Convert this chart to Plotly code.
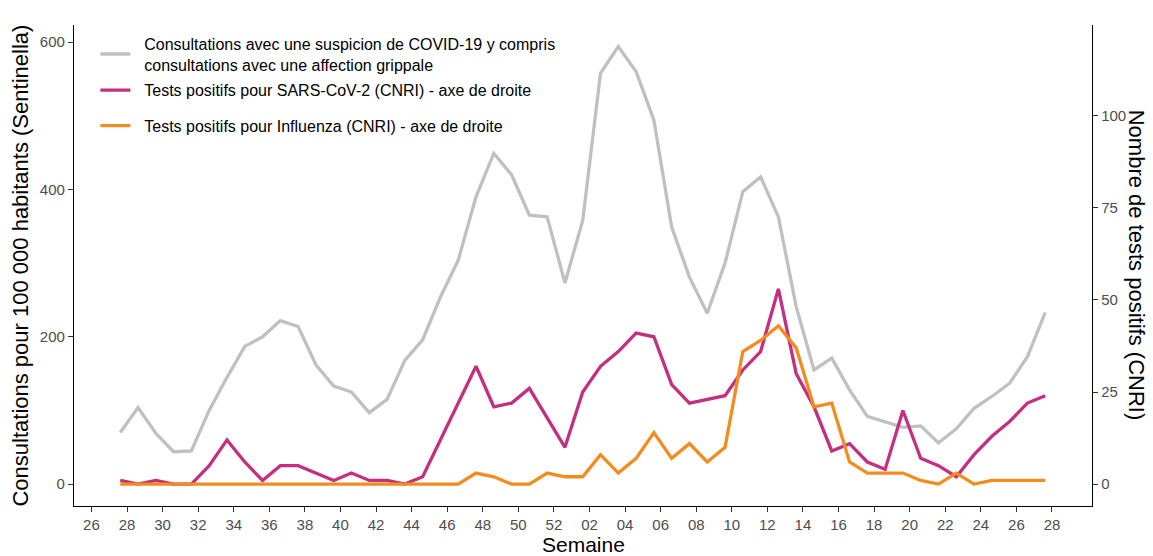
import plotly.graph_objects as go

# Week tick labels (every 2 weeks, 2020-W26 .. 2021-W28)
tick_labels = ["26", "28", "30", "32", "34", "36", "38", "40", "42", "44", "46", "48", "50", "52",
               "02", "04", "06", "08", "10", "12", "14", "16", "18", "20", "22", "24", "26", "28"]

# Consultations (left axis)
consultations = [70, 104, 69, 44, 45, 100, 145, 187, 200, 222, 214, 162, 133, 125, 97, 115, 168, 196,
                 254, 304, 390, 449, 420, 365, 363, 273, 358, 558, 594, 560, 494, 349, 281, 232, 300,
                 397, 417, 363, 241, 155, 171, 128, 92, 85, 77, 79, 56, 75, 103, 119, 137, 173, 233]
# Positive SARS-CoV-2 tests (right axis)
sars = [1, 0, 1, 0, 0, 5, 12, 6, 1, 5, 5, 3, 1, 3, 1, 1, 0, 2, 12, 22, 32, 21, 22, 26, 18, 10, 25,
        32, 36, 41, 40, 27, 22, 23, 24, 31, 36, 53, 30, 21, 9, 11, 6, 4, 20, 7, 5, 2, 8, 13, 17, 22, 24]
# Positive influenza tests (right axis)
influenza = [0] * 20 + [3, 2, 0, 0, 3, 2, 2, 8, 3, 7, 14, 7, 11, 6, 10, 36, 39, 43, 37, 21, 22, 6,
                        3, 3, 3, 1, 0, 3, 0, 1, 1, 1, 1]

NB = "\u00a0\u00a0"
names = [NB + "Consultations avec une suspicion de COVID-19 y compris<br>" + NB +
         "consultations avec une affection grippale",
         NB + "Tests positifs pour SARS-CoV-2 (CNRI) - axe de droite",
         NB + "Tests positifs pour Influenza (CNRI) - axe de droite"]
colors = ["#C0C0C0", "#C2307F", "#F28C1E"]

tick_pos = [2 * i for i in range(len(tick_labels))]
x = [k + 1.62 for k in range(len(consultations))]

FONT = "Liberation Sans, Arial, sans-serif"

fig = go.Figure()
fig.add_trace(go.Scatter(x=x, y=consultations, mode="lines", name=names[0],
                         line=dict(color=colors[0], width=3.3), legend="legend"))
fig.add_trace(go.Scatter(x=x, y=sars, mode="lines", name=names[1], yaxis="y2",
                         line=dict(color=colors[1], width=3.3), legend="legend2"))
fig.add_trace(go.Scatter(x=x, y=influenza, mode="lines", name=names[2], yaxis="y2",
                         line=dict(color=colors[2], width=3.3), legend="legend3"))

ymin, ymax = -29.7, 623.3
axis_common = dict(showline=True, linecolor="black", linewidth=1.3, ticks="outside", ticklen=5,
                   tickcolor="#333333", tickwidth=1.1, showgrid=False, zeroline=False,
                   automargin=False,
                   tickfont=dict(family=FONT, size=15, color="#4D4D4D"))

legend_common = dict(x=0.021, xanchor="left", yanchor="middle", bgcolor="rgba(0,0,0,0)",
                     font=dict(family=FONT, size=16, color="black"), itemwidth=30)

fig.update_layout(
    width=1153, height=556,
    margin=dict(l=74, r=61, t=25, b=50, autoexpand=False),
    plot_bgcolor="white", paper_bgcolor="white",
    xaxis=dict(range=[-0.98, 56.25], tickvals=tick_pos, ticktext=tick_labels, **axis_common),
    yaxis=dict(range=[ymin, ymax], tickvals=[0, 200, 400, 600], **axis_common),
    yaxis2=dict(range=[ymin / 5, ymax / 5], tickvals=[0, 25, 50, 75, 100], overlaying="y",
                side="right", **axis_common),
    legend=dict(y=0.9393, **legend_common),
    legend2=dict(y=0.8644, **legend_common),
    legend3=dict(y=0.7907, **legend_common),
    showlegend=True,
)

title_font = dict(family=FONT, size=22, color="black")
fig.add_annotation(text="Semaine", xref="paper", yref="paper", x=0.5, y=-0.0794,
                   xanchor="center", yanchor="middle", showarrow=False, borderpad=0,
                   font=dict(family=FONT, size=21, color="black"))
fig.add_annotation(text="Consultations pour 100 000 habitants (Sentinella)", textangle=-90,
                   xref="paper", yref="paper", x=-0.053, y=0.5,
                   xanchor="center", yanchor="middle", showarrow=False, font=title_font)
fig.add_annotation(text="Nombre de tests positifs (CNRI)", textangle=90, xref="paper", yref="paper",
                   x=1.044, y=0.5, xanchor="center", yanchor="middle", showarrow=False,
                   font=title_font)

fig.write_html("out.html", post_script="document.body.style.margin='0';",
               config={"displayModeBar": False})
